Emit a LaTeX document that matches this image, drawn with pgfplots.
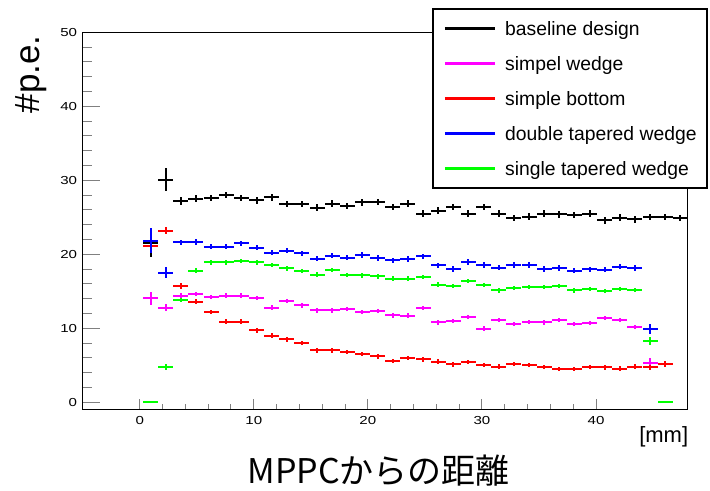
\documentclass[border=0pt]{standalone}
\usepackage{pgfplots}
\pgfplotsset{compat=1.18}
\usepackage{fontspec}
\setmainfont{Liberation Sans}
\newfontfamily\jpfont{Noto Sans CJK JP}
\newfontfamily\tickfont{Liberation Sans}[FakeStretch=1.3]
\definecolor{rootmagenta}{rgb}{1,0,1}
\definecolor{rootgreen}{rgb}{0,1,0}
\definecolor{rootblue}{rgb}{0,0,1}
\definecolor{rootred}{rgb}{1,0,0}
\pgfplotsset{rootbar/.style={forget plot, draw=none, no markers,
  error bars/.cd, x dir=both, x explicit, y dir=both, y explicit, error mark=none,
  error bar style={line width=1.5pt, draw=#1, solid}}}
\begin{document}
\begin{tikzpicture}
\path[use as bounding box] (0pt,0pt) rectangle (532.5pt,368.25pt);
\begin{axis}[
  at={(62.0pt,61.3pt)}, anchor=south west,
  width=453.45pt, height=282.75pt, scale only axis,
  xmin=-5, xmax=48, ymin=-0.95, ymax=50,
  axis line style={line width=0.75pt},
  tick align=inside, tick pos=left,
  xtick={0,10,20,30,40}, ytick={0,10,20,30,40,50},
  minor x tick num=4, minor y tick num=4,
  xtick style={line width=0.75pt, /pgfplots/major tick length=8pt, /pgfplots/minor tick length=3.75pt},
  ytick style={line width=0.75pt, /pgfplots/major tick length=12.75pt, /pgfplots/minor tick length=6.75pt},
  /pgf/number format/assume math mode=true,
  ticklabel style={font=\fontsize{8.7}{10}\selectfont\tickfont},
  xticklabel style={inner sep=0pt, yshift=-5pt},
  yticklabel style={inner sep=0pt, xshift=-4pt},
  legend image code/.code={\draw[#1] (0pt,0pt) -- (37.5pt,0pt);},
  legend style={at={(1.0347,1.0637)}, anchor=north east, draw=black, line width=1.5pt, fill=white,
    font=\fontsize{14.5}{17}\selectfont, inner xsep=8pt, inner ysep=1.5pt,
    column sep=6.75pt, row sep=0pt,
    nodes={inner sep=0pt, text height=18.125pt, text depth=8.125pt}},
  legend cell align=left,
]
\addlegendimage{black, line width=2pt}
\addlegendentry{baseline design}
\addlegendimage{rootmagenta, line width=2pt}
\addlegendentry{simpel wedge}
\addlegendimage{rootred, line width=2pt}
\addlegendentry{simple bottom}
\addlegendimage{rootblue, line width=2pt}
\addlegendentry{double tapered wedge}
\addlegendimage{rootgreen, line width=2pt}
\addlegendentry{single tapered wedge}

% baseline design
\addplot[rootbar=black] table[x=x,y=y,x error=ex,y error=ey] {
x y ex ey
0.95 21.5 0.66 1.85
2.28 30.1 0.66 1.5
3.60 27.2 0.66 0.55
4.93 27.5 0.66 0.45
6.26 27.6 0.66 0.45
7.59 28.0 0.66 0.45
8.91 27.6 0.66 0.45
10.24 27.3 0.66 0.45
11.57 27.7 0.66 0.45
12.89 26.8 0.66 0.45
14.22 26.8 0.66 0.45
15.55 26.3 0.66 0.45
16.87 26.85 0.66 0.45
18.20 26.5 0.66 0.45
19.53 27.0 0.66 0.45
20.86 27.05 0.66 0.45
22.18 26.4 0.66 0.45
23.51 26.85 0.66 0.45
24.84 25.5 0.66 0.45
26.16 25.9 0.66 0.45
27.49 26.4 0.66 0.45
28.82 25.5 0.66 0.45
30.14 26.4 0.66 0.45
31.47 25.5 0.66 0.45
32.80 24.9 0.66 0.45
34.13 25.1 0.66 0.45
35.45 25.5 0.66 0.45
36.78 25.4 0.66 0.45
38.11 25.3 0.66 0.45
39.43 25.5 0.66 0.45
40.76 24.6 0.66 0.45
42.09 24.95 0.66 0.45
43.41 24.7 0.66 0.45
44.74 25.05 0.66 0.45
46.07 25.05 0.66 0.45
47.40 24.9 0.66 0.45
};
% simpel wedge
\addplot[rootbar=rootmagenta] table[x=x,y=y,x error=ex,y error=ey] {
x y ex ey
0.95 14.05 0.66 0.9
2.28 12.8 0.66 0.45
3.60 14.4 0.66 0.3
4.93 14.6 0.66 0.3
6.26 14.2 0.66 0.3
7.59 14.4 0.66 0.3
8.91 14.4 0.66 0.3
10.24 14.05 0.66 0.3
11.57 12.8 0.66 0.3
12.89 13.65 0.66 0.3
14.22 13.1 0.66 0.3
15.55 12.4 0.66 0.3
16.87 12.4 0.66 0.3
18.20 12.6 0.66 0.3
19.53 12.2 0.66 0.3
20.86 12.3 0.66 0.3
22.18 11.75 0.66 0.3
23.51 11.7 0.66 0.3
24.84 12.75 0.66 0.3
26.16 10.8 0.66 0.3
27.49 10.95 0.66 0.3
28.82 11.5 0.66 0.3
30.14 9.95 0.66 0.3
31.47 11.1 0.66 0.3
32.80 10.6 0.66 0.3
34.13 10.85 0.66 0.3
35.45 10.8 0.66 0.3
36.78 11.1 0.66 0.3
38.11 10.55 0.66 0.3
39.43 10.7 0.66 0.3
40.76 11.4 0.66 0.3
42.09 11.1 0.66 0.3
43.41 10.2 0.66 0.3
44.74 5.35 0.66 0.6
};
% simple bottom
\addplot[rootbar=rootred] table[x=x,y=y,x error=ex,y error=ey] {
x y ex ey
0.95 21.1 0.66 0.5
2.28 23.2 0.66 0.5
3.60 15.7 0.66 0.35
4.93 13.6 0.66 0.3
6.26 12.2 0.66 0.3
7.59 10.9 0.66 0.3
8.91 10.9 0.66 0.3
10.24 9.7 0.66 0.3
11.57 9.0 0.66 0.3
12.89 8.5 0.66 0.3
14.22 8.0 0.66 0.3
15.55 7.0 0.66 0.3
16.87 7.0 0.66 0.3
18.20 6.8 0.66 0.3
19.53 6.5 0.66 0.3
20.86 6.2 0.66 0.3
22.18 5.6 0.66 0.3
23.51 5.95 0.66 0.3
24.84 5.8 0.66 0.3
26.16 5.5 0.66 0.3
27.49 5.1 0.66 0.3
28.82 5.4 0.66 0.3
30.14 5.05 0.66 0.3
31.47 4.8 0.66 0.3
32.80 5.15 0.66 0.3
34.13 5.0 0.66 0.3
35.45 4.75 0.66 0.3
36.78 4.5 0.66 0.3
38.11 4.5 0.66 0.3
39.43 4.75 0.66 0.3
40.76 4.7 0.66 0.3
42.09 4.55 0.66 0.3
43.41 4.8 0.66 0.3
44.74 4.7 0.66 0.3
46.07 5.2 0.66 0.4
};
% double tapered wedge
\addplot[rootbar=rootblue] table[x=x,y=y,x error=ex,y error=ey] {
x y ex ey
0.95 21.8 0.66 1.7
2.28 17.5 0.66 0.75
3.60 21.6 0.66 0.35
4.93 21.65 0.66 0.35
6.26 21.0 0.66 0.35
7.59 21.0 0.66 0.35
8.91 21.5 0.66 0.35
10.24 20.9 0.66 0.35
11.57 20.2 0.66 0.35
12.89 20.5 0.66 0.35
14.22 20.1 0.66 0.35
15.55 19.4 0.66 0.35
16.87 19.8 0.66 0.35
18.20 19.55 0.66 0.35
19.53 19.9 0.66 0.35
20.86 19.5 0.66 0.35
22.18 19.2 0.66 0.35
23.51 19.35 0.66 0.35
24.84 19.7 0.66 0.35
26.16 18.5 0.66 0.35
27.49 18.0 0.66 0.35
28.82 18.95 0.66 0.35
30.14 18.55 0.66 0.35
31.47 18.2 0.66 0.35
32.80 18.55 0.66 0.35
34.13 18.55 0.66 0.35
35.45 18.0 0.66 0.35
36.78 18.15 0.66 0.35
38.11 17.75 0.66 0.35
39.43 17.95 0.66 0.35
40.76 17.9 0.66 0.35
42.09 18.3 0.66 0.35
43.41 18.15 0.66 0.35
44.74 9.9 0.66 0.7
};
% single tapered wedge
\addplot[rootbar=rootgreen] table[x=x,y=y,x error=ex,y error=ey] {
x y ex ey
0.95 0.0 0.66 0.0
2.28 4.8 0.66 0.4
3.60 13.8 0.66 0.3
4.93 17.8 0.66 0.3
6.26 18.9 0.66 0.3
7.59 18.9 0.66 0.3
8.91 19.05 0.66 0.3
10.24 18.9 0.66 0.3
11.57 18.55 0.66 0.3
12.89 18.1 0.66 0.3
14.22 17.75 0.66 0.3
15.55 17.25 0.66 0.3
16.87 17.9 0.66 0.3
18.20 17.2 0.66 0.3
19.53 17.15 0.66 0.3
20.86 17.0 0.66 0.3
22.18 16.7 0.66 0.3
23.51 16.7 0.66 0.3
24.84 16.9 0.66 0.3
26.16 15.9 0.66 0.3
27.49 15.7 0.66 0.3
28.82 16.4 0.66 0.3
30.14 15.85 0.66 0.3
31.47 15.1 0.66 0.3
32.80 15.45 0.66 0.3
34.13 15.55 0.66 0.3
35.45 15.6 0.66 0.3
36.78 15.7 0.66 0.3
38.11 15.1 0.66 0.3
39.43 15.3 0.66 0.3
40.76 15.0 0.66 0.3
42.09 15.3 0.66 0.3
43.41 15.2 0.66 0.3
44.74 8.3 0.66 0.5
46.07 0.0 0.66 0.0
};
\end{axis}
\node[rotate=90, anchor=base east, inner sep=0pt, font=\fontsize{26.25}{30}\selectfont] at (29.5pt,341.8pt) {\#p.e.};
\node[anchor=east, inner sep=0pt, font=\fontsize{16.5}{19}\selectfont] at (516.3pt,40.7pt) {[mm]};
\node[anchor=base west, inner sep=0pt, font=\fontsize{25.5}{30}\selectfont\jpfont] at (185.5pt,5.8pt) {MPPCからの距離};
\end{tikzpicture}
\end{document}
